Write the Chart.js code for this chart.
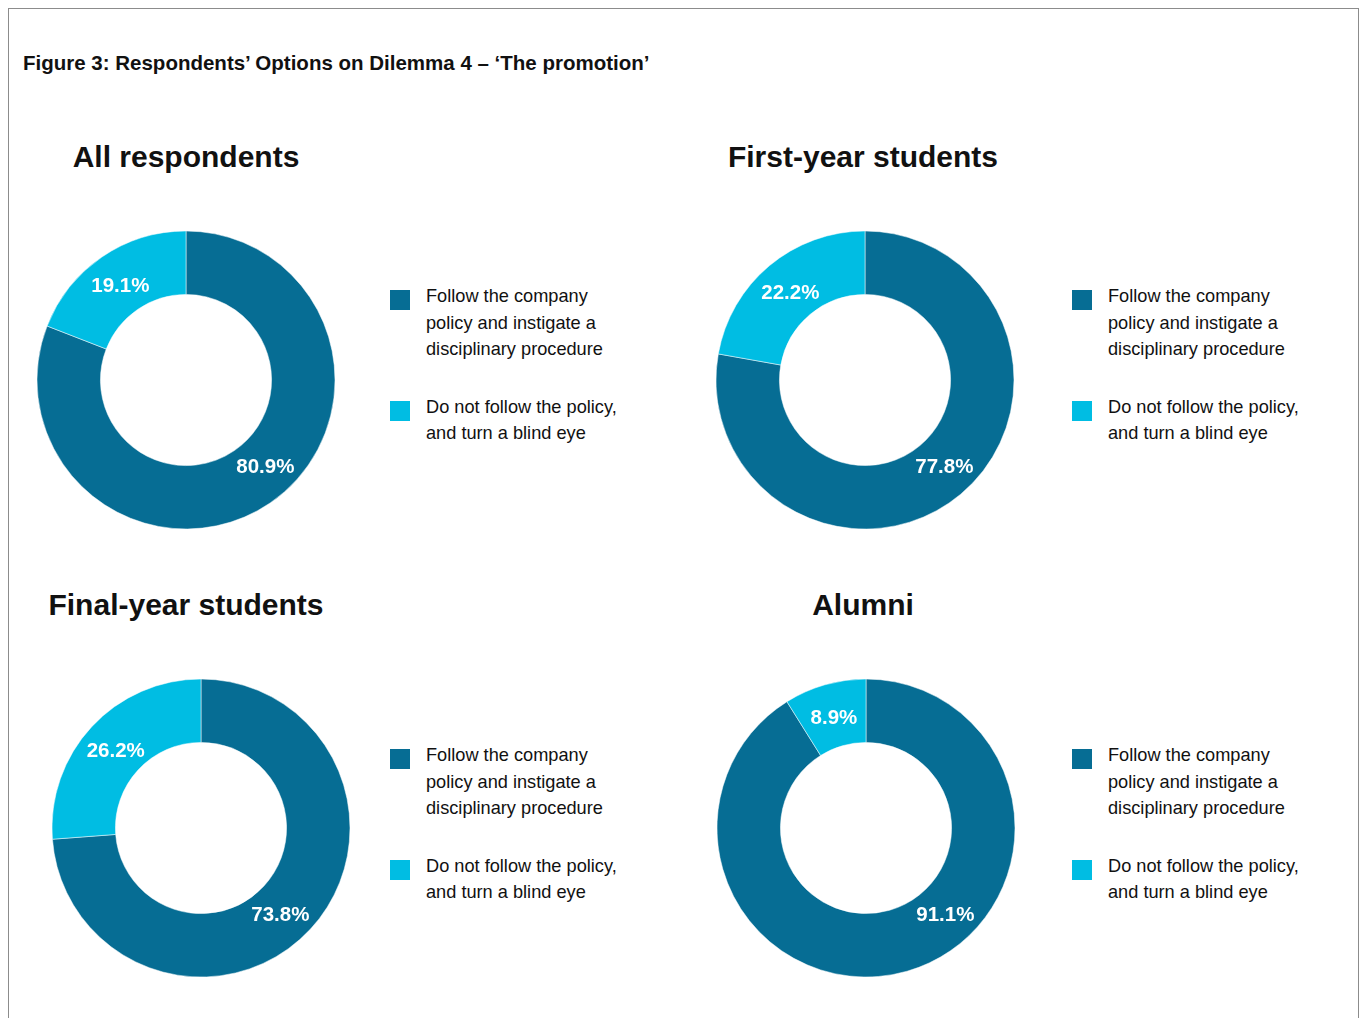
<!DOCTYPE html>
<html>
<head>
<meta charset="utf-8">
<script src="https://cdn.jsdelivr.net/npm/chart.js@4.4.1/dist/chart.umd.min.js"></script>
<style>
  body { margin: 0; background: #fff; font-family: "Liberation Sans", Arial, sans-serif; color: #111; }
  #frame { position: absolute; left: 8px; top: 8px; width: 1349px; height: 1020px;
           border-left: 1px solid #8c8c8c; border-top: 1px solid #8c8c8c; border-right: 1px solid #8c8c8c; }
  #fig-title { position: absolute; left: 23px; top: 51px; font-size: 20.5px; font-weight: bold; white-space: nowrap; }
  .panel-title { position: absolute; font-size: 30px; font-weight: bold; white-space: nowrap; transform: translateX(-50%); }
  .donut { position: absolute; }
  .legend { position: absolute; font-size: 18.2px; line-height: 26.5px; }
  .legend .item { position: relative; padding-left: 36px; margin-bottom: 31px; }
  .legend .box { position: absolute; left: 0; top: 7px; width: 20px; height: 20px; }
</style>
</head>
<body>
<div id="frame"></div>
<div id="fig-title">Figure 3: Respondents’ Options on Dilemma 4 – ‘The promotion’</div>

<script>
// ---- data ----
var groups = ["All respondents", "First-year students", "Final-year students", "Alumni"];
var options = [
  "Follow the company<br>policy and instigate a<br>disciplinary procedure",
  "Do not follow the policy,<br>and turn a blind eye"
];
var followPolicy = [80.9, 77.8, 73.8, 91.1];
var blindEye     = [19.1, 22.2, 26.2, 8.9];
var colors = ["#066d94", "#00bde3"];

// panel layout: donut centre, title centre, legend left edge
var panels = [
  { cx: 186, cy: 380, tx: 186, ty: 140, lx: 390, ly: 283 },
  { cx: 865, cy: 380, tx: 863, ty: 140, lx: 1072, ly: 283 },
  { cx: 201, cy: 828, tx: 186, ty: 588, lx: 390, ly: 742 },
  { cx: 866, cy: 828, tx: 863, ty: 588, lx: 1072, ly: 742 }
];

// white percentage labels inside each ring
var ringLabels = {
  id: 'ringLabels',
  afterDatasetsDraw: function(chart) {
    var ctx = chart.ctx;
    var arcs = chart.getDatasetMeta(0).data;
    var values = chart.data.datasets[0].data;
    ctx.save();
    ctx.fillStyle = '#fff';
    ctx.font = 'bold 20.5px "Liberation Sans", Arial, sans-serif';
    ctx.textAlign = 'center';
    ctx.textBaseline = 'middle';
    arcs.forEach(function(arc, i) {
      var p = arc.getProps(['x', 'y', 'startAngle', 'endAngle', 'innerRadius', 'outerRadius']);
      var a = i === 0 ? 47 * Math.PI / 180 : (p.startAngle + p.endAngle) / 2;
      var r = (p.innerRadius + p.outerRadius) / 2 - 1;
      ctx.fillText(values[i].toFixed(1) + '%', p.x + Math.cos(a) * r, p.y + Math.sin(a) * r + 2);
    });
    ctx.restore();
  }
};

panels.forEach(function(p, k) {
  var t = document.createElement('div');
  t.className = 'panel-title';
  t.style.left = p.tx + 'px';
  t.style.top = p.ty + 'px';
  t.textContent = groups[k];
  document.body.appendChild(t);

  var cv = document.createElement('canvas');
  cv.className = 'donut';
  cv.width = 300; cv.height = 300;
  cv.style.left = (p.cx - 150) + 'px';
  cv.style.top = (p.cy - 150) + 'px';
  document.body.appendChild(cv);

  var lg = document.createElement('div');
  lg.className = 'legend';
  lg.style.left = p.lx + 'px';
  lg.style.top = p.ly + 'px';
  options.forEach(function(txt, i) {
    lg.innerHTML += '<div class="item"><span class="box" style="background:' + colors[i] + '"></span>' + txt + '</div>';
  });
  document.body.appendChild(lg);

  new Chart(cv, {
    type: 'doughnut',
    data: {
      labels: ["Follow the policy", "Turn a blind eye"],
      datasets: [{
        data: [followPolicy[k], blindEye[k]],
        backgroundColor: colors,
        borderColor: '#fff',
        borderWidth: 0.5
      }]
    },
    options: {
      responsive: false,
      animation: false,
      radius: 149,
      cutout: 86,
      layout: { padding: 0 },
      plugins: { legend: { display: false }, tooltip: { enabled: false } }
    },
    plugins: [ringLabels]
  });
});
</script>
</body>
</html>
